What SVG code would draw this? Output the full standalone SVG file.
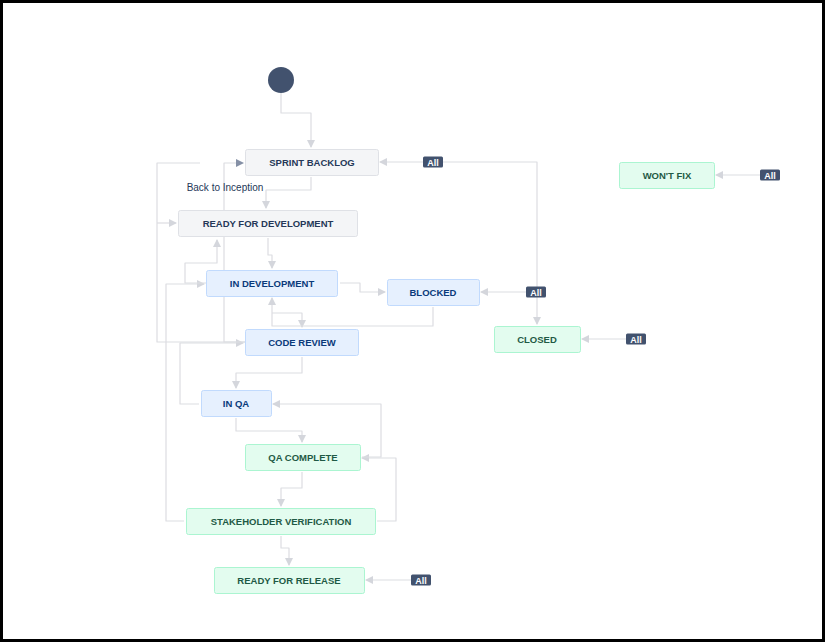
<svg xmlns="http://www.w3.org/2000/svg" width="825" height="642" viewBox="0 0 825 642">
<style>
.n rect{stroke-width:1}
.g rect{fill:#f4f5f7;stroke:#dfe1e6}
.b rect{fill:#e6f0fe;stroke:#c1dafd}
.e rect{fill:#e3fcef;stroke:#abf5d1}
text{font-family:"Liberation Sans",Arial,sans-serif;font-size:9.5px;font-weight:bold;text-anchor:middle}
.g text{fill:#253858}.b text{fill:#0a3a7a}.e text{fill:#1f5a45}
.c path{fill:none;stroke:#dcdde2;stroke-width:1.2;stroke-linejoin:round}
.badge rect{fill:#42526e}.badge text{fill:#fff;font-size:9px}
</style>
<defs>
<marker id="a" markerWidth="8" markerHeight="8" refX="7" refY="4" orient="auto" markerUnits="userSpaceOnUse"><path d="M0,0L8,4L0,8z" fill="#d4d6dc"/></marker>
<marker id="ad" markerWidth="8" markerHeight="8" refX="7" refY="4" orient="auto" markerUnits="userSpaceOnUse"><path d="M0,0L8,4L0,8z" fill="#8590a6"/></marker>
</defs>
<rect x="1.5" y="1.5" width="822" height="639" fill="#fff" stroke="#000" stroke-width="3"/>
<g class="c">
<path d="M281,93V113H311V147" marker-end="url(#a)"/>
<path d="M311,177V190H266V208" marker-end="url(#a)"/>
<path d="M268,238V255H272V268" marker-end="url(#a)"/>
<path d="M340,283H360V292H385" marker-end="url(#a)"/>
<path d="M272,313H302V327" marker-end="url(#a)"/>
<path d="M433,307V326H272V298" marker-end="url(#a)"/>
<path d="M302,357V373H236V388" marker-end="url(#a)"/>
<path d="M236,418V431H302V442" marker-end="url(#a)"/>
<path d="M302,472V488H281V506" marker-end="url(#a)"/>
<path d="M281,536V548H289V565" marker-end="url(#a)"/>
<path d="M377,521H396V458H362" marker-end="url(#a)"/>
<path d="M362,457H381V404H273" marker-end="url(#a)"/>
<path d="M245,342H157V163H200"/>
<path d="M157,223H176" marker-end="url(#a)"/>
<path d="M184,521H166V284H204" marker-end="url(#a)"/>
<path d="M199,404H180V343H243" marker-end="url(#a)"/>
<path d="M206,283H185V263H217V240" marker-end="url(#a)"/>
<path d="M423,162H380" marker-end="url(#a)"/>
<path d="M443,162H537V324" marker-end="url(#a)"/>
<path d="M526,292H481" marker-end="url(#a)"/>
<path d="M626,339H582" marker-end="url(#a)"/>
<path d="M760,175H716" marker-end="url(#a)"/>
<path d="M411,580H366" marker-end="url(#a)"/>
<path d="M245,342H224V163H243" stroke="#6b778c" marker-end="url(#ad)"/>
</g>
<text x="225" y="191" style="font-weight:normal;fill:#253858;font-size:10px">Back to Inception</text>
<g id="start"><circle cx="281" cy="80" r="13" fill="#42526e"/></g>
<g id="sprint-backlog" class="n g"><rect x="245.5" y="149.5" width="133" height="26" rx="2"/><text x="312" y="166">SPRINT BACKLOG</text></g>
<g id="ready-for-dev" class="n g"><rect x="178.5" y="210.5" width="179" height="26" rx="2"/><text x="268" y="227">READY FOR DEVELOPMENT</text></g>
<g id="in-dev" class="n b"><rect x="206.5" y="270.5" width="131" height="26" rx="2"/><text x="272" y="287">IN DEVELOPMENT</text></g>
<g id="blocked" class="n b"><rect x="387.5" y="279.5" width="92" height="26" rx="2"/><text x="433" y="296">BLOCKED</text></g>
<g id="code-review" class="n b"><rect x="245.5" y="329.5" width="113" height="26" rx="2"/><text x="302" y="346">CODE REVIEW</text></g>
<g id="in-qa" class="n b"><rect x="201.5" y="390.5" width="70" height="26" rx="2"/><text x="236" y="407">IN QA</text></g>
<g id="qa-complete" class="n e"><rect x="245.5" y="444.5" width="115" height="26" rx="2"/><text x="303" y="461">QA COMPLETE</text></g>
<g id="stakeholder" class="n e"><rect x="186.5" y="508.5" width="189" height="26" rx="2"/><text x="281" y="525">STAKEHOLDER VERIFICATION</text></g>
<g id="ready-release" class="n e"><rect x="214.5" y="567.5" width="150" height="26" rx="2"/><text x="289" y="584">READY FOR RELEASE</text></g>
<g id="wont-fix" class="n e"><rect x="619.5" y="162.5" width="95" height="26" rx="2"/><text x="667" y="179">WON'T FIX</text></g>
<g id="closed" class="n e"><rect x="494.5" y="326.5" width="86" height="26" rx="2"/><text x="537" y="343">CLOSED</text></g>
<g class="badge"><rect x="423" y="156.5" width="20" height="11" rx="1.5"/><text x="433" y="165.5">All</text></g>
<g class="badge"><rect x="526" y="286.5" width="20" height="11" rx="1.5"/><text x="536" y="295.5">All</text></g>
<g class="badge"><rect x="626" y="333.5" width="20" height="11" rx="1.5"/><text x="636" y="342.5">All</text></g>
<g class="badge"><rect x="760" y="169.5" width="20" height="11" rx="1.5"/><text x="770" y="178.5">All</text></g>
<g class="badge"><rect x="411" y="574.5" width="20" height="11" rx="1.5"/><text x="421" y="583.5">All</text></g>
</svg>
